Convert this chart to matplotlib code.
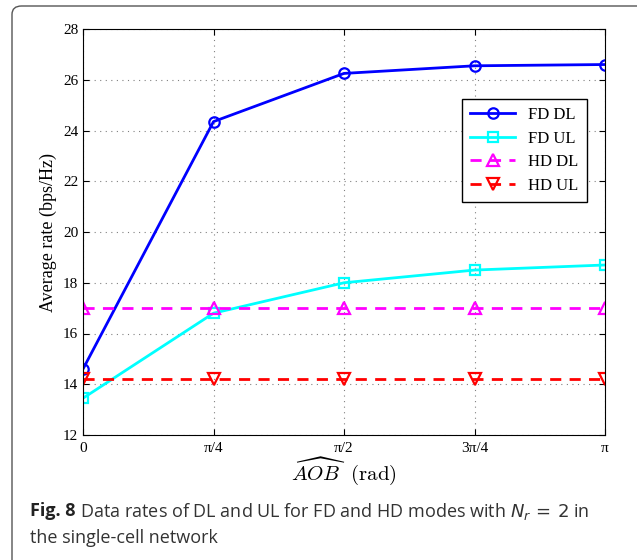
import numpy as np
import matplotlib.pyplot as plt
from matplotlib.patches import FancyBboxPatch

# -----------------------------
#  Data
# -----------------------------
x = np.array([0, np.pi / 4, np.pi / 2, 3 * np.pi / 4, np.pi])
xtick_labels = ["0", "π/4", "π/2", "3π/4", "π"]

fd_dl = [14.6, 24.35, 26.25, 26.55, 26.6]
fd_ul = [13.45, 16.8, 18.0, 18.5, 18.7]
hd_dl = [17.0, 17.0, 17.0, 17.0, 17.0]
hd_ul = [14.2, 14.2, 14.2, 14.2, 14.2]

# -----------------------------
#  Figure
# -----------------------------
plt.rcParams["mathtext.fontset"] = "cm"
serif = "Liberation Serif"
W, H = 637, 560

fig = plt.figure(figsize=(W / 100, H / 100), dpi=100)

# outer frame with rounded corner
frame = FancyBboxPatch((12 / W, -0.1), 1.2, 1.1 - 6 / H,
                       boxstyle="round,pad=0,rounding_size=0.015",
                       transform=fig.transFigure, fill=False,
                       edgecolor="#555555", linewidth=1.0)
fig.patches.append(frame)

ax = fig.add_axes([83 / W, 1 - 435 / H, (605 - 83) / W, (435 - 29) / H])

ax.plot(x, fd_dl, "-o", color="blue", lw=2, ms=7.5, mfc="none", mew=1.6, label="FD DL")
ax.plot(x, fd_ul, "-s", color="cyan", lw=2, ms=6.5, mfc="none", mew=1.6, label="FD UL")
ax.plot(x, hd_dl, "--^", color="magenta", lw=2, ms=8.5, mfc="none", mew=1.6,
        dashes=(4, 3), label="HD DL")
ax.plot(x, hd_ul, "--v", color="red", lw=2, ms=8.5, mfc="none", mew=1.6,
        dashes=(4, 3), label="HD UL")

ax.set_xlim(0, np.pi)
ax.set_ylim(12, 28)
ax.set_xticks(x)
ax.set_xticklabels(xtick_labels)
ax.set_yticks(np.arange(12, 29, 2))
ax.tick_params(direction="in", top=True, right=True, length=4, labelsize=11)
ax.tick_params(axis="x", pad=5)
for lab in ax.get_xticklabels() + ax.get_yticklabels():
    lab.set_fontfamily(serif)
ax.grid(True, linestyle=(0, (1, 4)), color="gray", linewidth=0.8)

ax.set_ylabel("Average rate (bps/Hz)", fontsize=13, family=serif)
ax.set_xlabel(r"$\widehat{AOB}\ \ \mathrm{(rad)}$", fontsize=15, labelpad=1)

leg = ax.legend(loc="upper right", bbox_to_anchor=(0.9655, 0.8276),
                prop={"family": serif, "size": 12},
                fancybox=False, edgecolor="black", framealpha=1,
                handlelength=2.7, borderpad=0.5, labelspacing=0.45,
                borderaxespad=0)
leg.get_frame().set_linewidth(1.0)

# caption
cap_size = 13
t1 = fig.text(30 / W, 1 - 511 / H, "Fig. 8", fontsize=cap_size, va="center",
              family="Open Sans", fontweight="bold", color="#222222")
fig.canvas.draw()
bb = t1.get_window_extent()
fig.text((bb.x1 + 4) / W, 1 - 511 / H,
         r"Data rates of DL and UL for FD and HD modes with $N_r\,=\,2$ in",
         fontsize=cap_size, va="center", family="Open Sans", color="#333333",
         math_fontfamily="dejavusans")
fig.text(30 / W, 1 - 538 / H, "the single-cell network",
         fontsize=cap_size, va="center", family="Open Sans", color="#333333")

fig.savefig("out.png", dpi=100)
